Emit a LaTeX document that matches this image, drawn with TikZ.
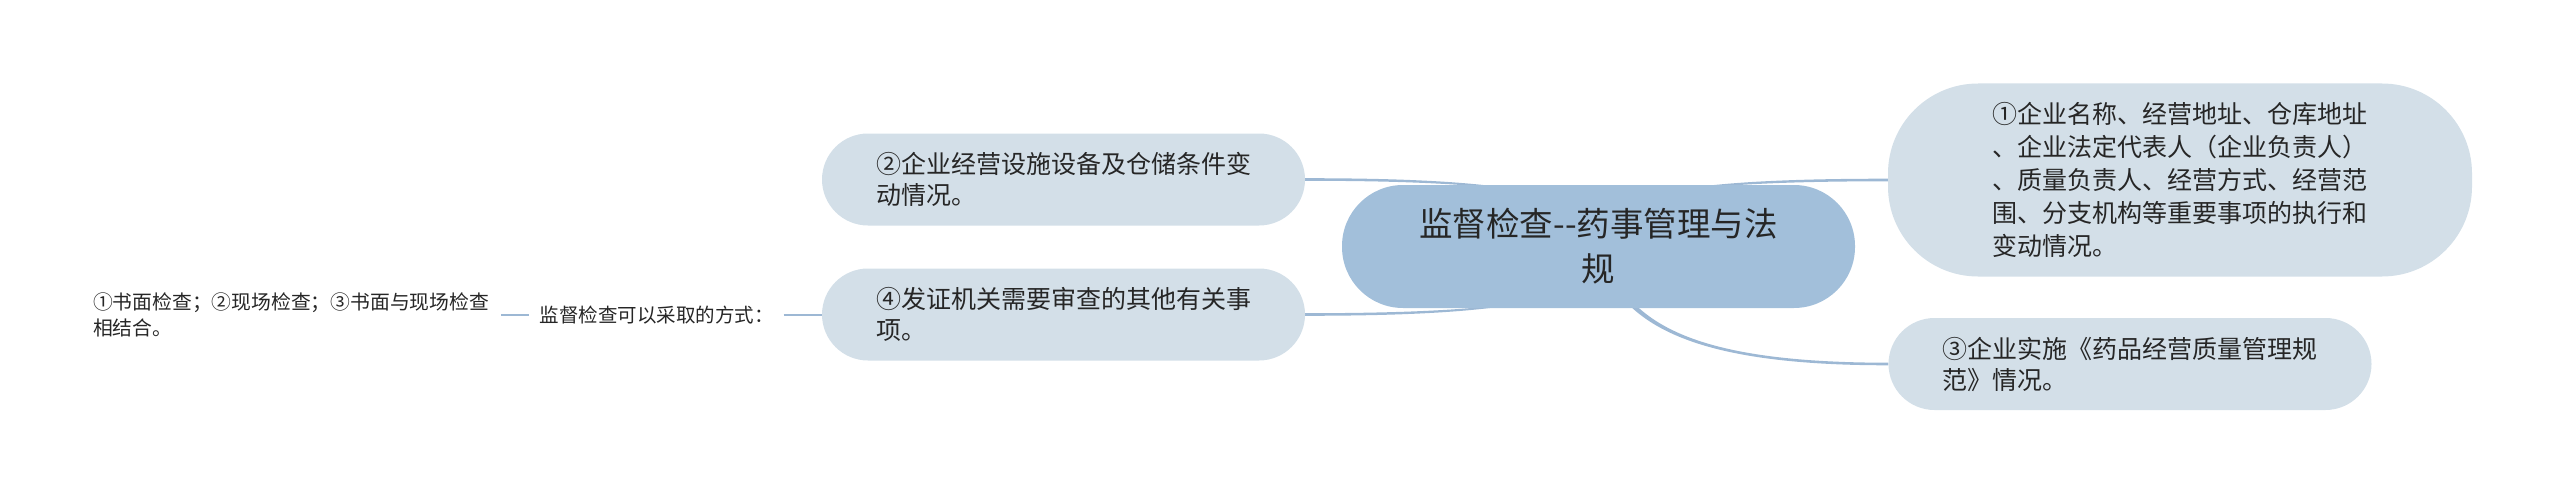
\documentclass[tikz,border=0pt]{standalone}
\usepackage{fontspec}
\newfontfamily\cjk{Noto Sans CJK SC}
\usetikzlibrary{calc,backgrounds}
\definecolor{rootfill}{HTML}{A2BFDA}
\definecolor{subfill}{HTML}{D3DFE8}
\definecolor{linkc}{HTML}{9DB8D4}
\definecolor{txt}{HTML}{262626}
\begin{document}
\begin{tikzpicture}[x=1pt,y=-1pt,
  rootbox/.style={fill=rootfill, rounded corners=61pt, minimum width=513pt, minimum height=123pt,
    font=\cjk\fontsize{33.5}{45}\selectfont, text=txt, align=center, inner sep=0pt},
  subbox/.style={fill=subfill, rounded corners=46pt, minimum width=483pt, minimum height=92pt,
    font=\cjk\fontsize{25}{31}\selectfont, text=txt, align=left, inner sep=0pt},
  bigbox/.style={subbox, rounded corners=90pt, minimum width=584pt, minimum height=193pt, font=\cjk\fontsize{25}{33}\selectfont},
  plaintext/.style={font=\cjk\fontsize{19.8}{26}\selectfont, text=txt, align=left, inner ysep=2pt},
  link/.style={draw=linkc, line width=2.6pt},
  taper/.style={fill=linkc}]
\useasboundingbox (0,0) rectangle (2560,495);

\node[rootbox] (root) at (1598.5,246.5) {监督检查-{}-药事管理与法\\规};
\node[subbox] (n2) at (1063.5,179.5) {②企业经营设施设备及仓储条件变\\动情况。};
\node[subbox] (n4) at (1063.5,314.5) {④发证机关需要审查的其他有关事\\项。};
\node[bigbox] (n1) at (2180,180) {①企业名称、经营地址、仓库地址\\、企业法定代表人（企业负责人）\\、质量负责人、经营方式、经营范\\围、分支机构等重要事项的执行和\\变动情况。};
\node[subbox] (n3) at (2130,364) {③企业实施《药品经营质量管理规\\范》情况。};
\node[plaintext, inner xsep=10pt, font=\cjk\fontsize{19.5}{26}\selectfont] (label) at (656.5,315) {监督检查可以采取的方式：};
\node[plaintext, inner xsep=12pt] (leaf) at (291,315) {①书面检查；②现场检查；③书面与现场检查\\相结合。};

\begin{scope}[on background layer]
  % root -> n2
  \fill[taper] ($(n2.east)+(0,-1.3)$) .. controls ($(n2.east)+(245,-1.3)$) and ($(root.center)+(-3,-46)$) .. ($(root.center)+(-3,0)$)
     -- ($(root.center)+(3,0)$) .. controls ($(root.center)+(3,-46)$) and ($(n2.east)+(245,1.3)$) .. ($(n2.east)+(0,1.3)$) -- cycle;
  % root -> n4
  \fill[taper] ($(n4.east)+(0,-1.3)$) .. controls ($(n4.east)+(245,-1.3)$) and ($(root.center)+(3,46)$) .. ($(root.center)+(3,0)$)
     -- ($(root.center)+(-3,0)$) .. controls ($(root.center)+(-3,46)$) and ($(n4.east)+(245,1.3)$) .. ($(n4.east)+(0,1.3)$) -- cycle;
  % root -> n1
  \fill[taper] ($(n1.west)+(0,-1.3)$) .. controls ($(n1.west)+(-245,-1.3)$) and ($(root.center)+(3,-46)$) .. ($(root.center)+(3,0)$)
     -- ($(root.center)+(-3,0)$) .. controls ($(root.center)+(-3,-46)$) and ($(n1.west)+(-245,1.3)$) .. ($(n1.west)+(0,1.3)$) -- cycle;
  % root -> n3
  \fill[taper] ($(n3.west)+(0,-1.3)$) .. controls ($(n3.west)+(-205,-1.3)$) and ($(root.center)+(25,73)$) .. ($(root.center)+(3,0)$)
     -- ($(root.center)+(-3,0)$) .. controls ($(root.center)+(18,75)$) and ($(n3.west)+(-205,1.3)$) .. ($(n3.west)+(0,1.3)$) -- cycle;
\end{scope}

\draw[link] (leaf.east) -- (leaf.east -| label.west);
\draw[link] (label.east) -- (label.east -| n4.west);
\end{tikzpicture}
\end{document}
